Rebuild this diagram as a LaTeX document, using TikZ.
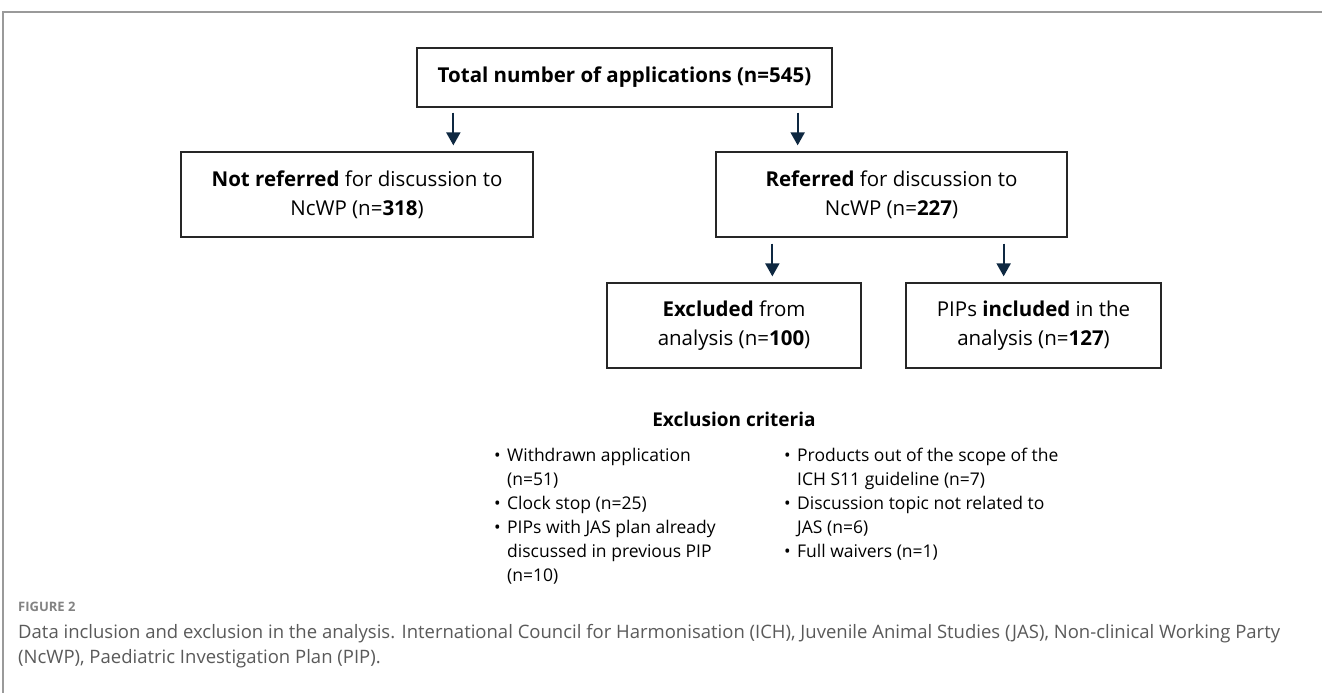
\documentclass[tikz,border=0pt]{standalone}
\usepackage{fontspec}
\setmainfont{Open Sans}
\newfontfamily\capfont{Open Sans}
\usetikzlibrary{arrows.meta,calc}
\definecolor{navy}{HTML}{0E2841}
\definecolor{capgray}{HTML}{5A5A5A}
\definecolor{framegray}{HTML}{9A9A9A}
\tikzset{
  box/.style={draw=black!85, line width=1.3pt, align=center, inner sep=0pt,
    font=\fontsize{20.5}{29}\selectfont},
  arr/.style={navy, line width=2pt, shorten >=6pt, -{Triangle[width=14pt,length=13pt]}},
  bulcol/.style={anchor=north west, inner sep=0pt,
    font=\fontsize{17.5}{24}\selectfont},
  capline/.style={anchor=west, inner sep=0pt, text=capgray}
}
\newcommand{\bul}[1]{\par\noindent\makebox[13pt][l]{\textbullet}#1}
\newcommand{\cont}[1]{\par\noindent\hspace*{13pt}#1}
\begin{document}
\begin{tikzpicture}[x=1pt,y=-1pt]
\useasboundingbox (0,0) rectangle (1322,693);
\fill[white] (0,0) rectangle (1322,693);
\draw[framegray, line width=1.5pt] (3,693) -- (3,12) -- (1322,12);

\node[box, minimum width=415pt, minimum height=59pt, font=\fontsize{20.5}{29}\selectfont\bfseries]
  (top) at (624.5,77.5) {Total number of applications (n=545)};
\node[box, minimum width=352pt, minimum height=85pt] (left) at (357,194.5)
  {\textbf{Not referred} for discussion to\\NcWP (n=\textbf{318})};
\node[box, minimum width=351pt, minimum height=85pt] (right) at (891.5,194.5)
  {\textbf{Referred} for discussion to\\NcWP (n=\textbf{227})};
\node[box, minimum width=254pt, minimum height=85pt] (excl) at (734,325.5)
  {\textbf{Excluded} from\\analysis (n=\textbf{100})};
\node[box, minimum width=255pt, minimum height=85pt] (incl) at (1033.5,325.5)
  {PIPs \textbf{included} in the\\analysis (n=\textbf{127})};

\coordinate (a1) at ([xshift=37pt,yshift=-5pt]top.south west);
\coordinate (a2) at ([xshift=-35pt,yshift=-5pt]top.south east);
\draw[arr] (a1) -- (a1 |- left.north);
\draw[arr] (a2) -- (a2 |- right.north);
\coordinate (b1) at ([xshift=57pt,yshift=-6pt]right.south west);
\coordinate (b2) at ([xshift=-64pt,yshift=-6pt]right.south east);
\draw[arr] (b1) -- (b1 |- excl.north);
\draw[arr] (b2) -- (b2 |- incl.north);

\node[inner sep=0pt, font=\fontsize{19}{22}\selectfont\bfseries] (crit) at (734,419) {Exclusion criteria};

\node[bulcol] (colA) at (494,448) {\parbox[t]{240pt}{%
\bul{Withdrawn application}\cont{(n=51)}
\bul{Clock stop (n=25)}
\bul{PIPs with JAS plan already}\cont{discussed in previous PIP}\cont{(n=10)}}};
\node[bulcol] (colB) at (784,448) {\parbox[t]{330pt}{%
\bul{Products out of the scope of the}\cont{ICH S11 guideline (n=7)}
\bul{Discussion topic not related to}\cont{JAS (n=6)}
\bul{Full waivers (n=1)}}};

\node[capline, font=\capfont\fontsize{13}{15}\selectfont\bfseries, text=framegray!85!black] (fig) at (18,607) {FIGURE 2};
\node[capline, font=\capfont\fontsize{18.5}{22}\selectfont] (cap1) at (18,634)
  {Data inclusion and exclusion in the analysis. International Council for Harmonisation (ICH), Juvenile Animal Studies (JAS), Non-clinical Working Party};
\node[capline, font=\capfont\fontsize{18.5}{22}\selectfont] (cap2) at (18,659)
  {(NcWP), Paediatric Investigation Plan (PIP).};
\end{tikzpicture}
\end{document}
